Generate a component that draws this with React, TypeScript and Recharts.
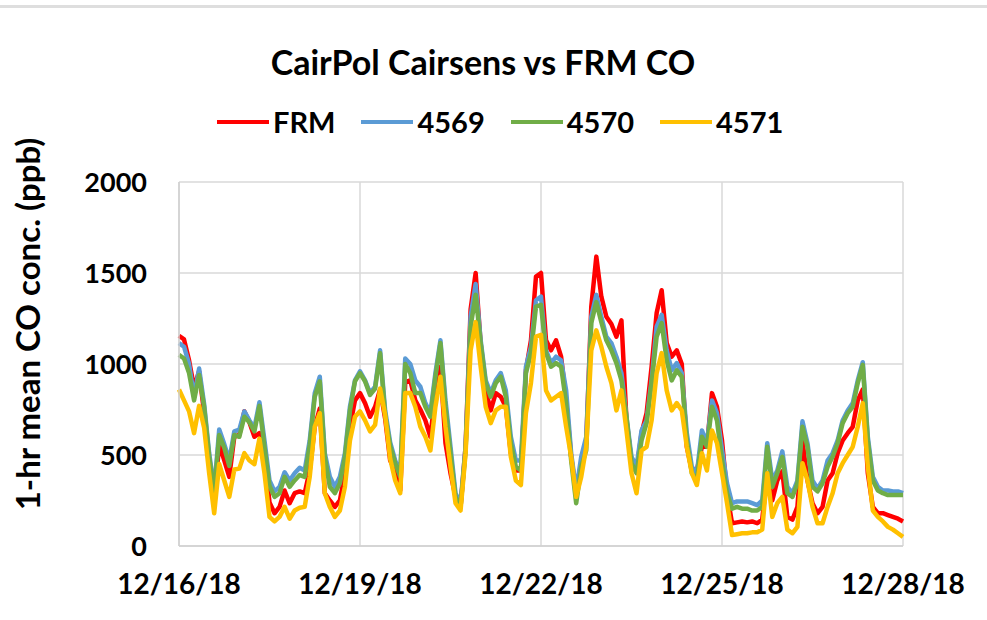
import React from "react";
import { LineChart, Line, XAxis, YAxis, CartesianGrid } from "recharts";

document.body.style.margin = "0";

// hourly CO readings sampled every 2 h, 12/16/18 00:00 -> 12/28/18 00:00
const frm = [
    1155, 1135, 1020, 870, 960, 730, 470, 250, 560, 470, 380, 600, 610, 740, 680, 600, 620, 500, 240, 180, 215, 305, 235, 290, 300,
    290, 415, 655, 755, 290, 250, 215, 250, 400, 655, 800, 840, 785, 710, 765, 860, 700, 470, 415, 305, 900, 910, 800, 750,
    690, 600, 840, 985, 565, 400, 270, 215, 545, 1300, 1500, 1110, 855, 745, 840, 820, 765, 510, 415, 415, 965, 1130, 1480, 1500,
    1130, 1075, 1130, 1040, 800, 490, 290, 435, 565, 1315, 1590, 1370, 1260, 1220, 1150, 1240, 690, 470, 415, 620, 730, 985, 1280, 1405,
    1115, 1040, 1075, 1000, 545, 415, 415, 545, 545, 840, 765, 580, 290, 125, 130, 135, 130, 135, 125, 145, 400, 250, 360, 410,
    160, 145, 215, 580, 360, 235, 180, 215, 360, 400, 510, 580, 620, 655, 800, 860, 400, 215, 180, 180, 170, 160, 150, 135,
];
const s4569 = [
    1115, 1095, 1000, 820, 975, 780, 510, 310, 640, 560, 470, 630, 640, 740, 690, 650, 790, 580, 360, 300, 325, 405, 360, 400, 430,
    415, 580, 840, 930, 510, 380, 325, 380, 510, 765, 910, 960, 910, 840, 875, 1075, 745, 570, 470, 400, 1030, 1000, 910, 875,
    785, 730, 950, 1130, 800, 545, 290, 235, 545, 1260, 1440, 1130, 910, 840, 910, 950, 855, 600, 470, 470, 985, 1095, 1350, 1370,
    1075, 1005, 1040, 1020, 855, 510, 305, 490, 600, 1260, 1380, 1260, 1150, 1115, 1040, 950, 710, 490, 435, 635, 690, 910, 1205, 1270,
    1075, 965, 1005, 950, 620, 435, 400, 635, 565, 800, 730, 530, 345, 235, 245, 245, 245, 235, 225, 250, 565, 360, 415, 520,
    325, 290, 360, 685, 565, 360, 315, 360, 470, 510, 580, 690, 745, 785, 910, 1010, 600, 380, 325, 305, 305, 300, 300, 290,
];
const s4570 = [
    1050, 1030, 950, 800, 940, 765, 490, 290, 610, 540, 440, 610, 600, 710, 680, 630, 770, 545, 330, 270, 290, 380, 325, 360, 390,
    380, 555, 820, 905, 490, 325, 290, 345, 490, 745, 905, 950, 905, 830, 865, 1060, 720, 550, 455, 380, 1000, 950, 840, 840,
    765, 710, 930, 1115, 765, 510, 270, 215, 525, 1205, 1380, 1115, 895, 820, 895, 930, 820, 565, 435, 415, 950, 1060, 1315, 1325,
    1060, 985, 1005, 985, 785, 470, 235, 435, 525, 1225, 1340, 1230, 1130, 1075, 1005, 910, 710, 455, 400, 580, 675, 895, 1150, 1225,
    1020, 910, 965, 930, 580, 400, 360, 600, 545, 765, 690, 470, 290, 205, 215, 205, 205, 195, 195, 215, 545, 325, 400, 490,
    290, 270, 345, 655, 545, 325, 300, 345, 435, 490, 565, 675, 730, 765, 895, 995, 580, 360, 305, 290, 280, 280, 280, 280,
];
const s4571 = [
    860, 800, 740, 620, 770, 650, 400, 180, 450, 360, 270, 420, 425, 510, 470, 450, 590, 400, 160, 135, 160, 215, 150, 195, 210,
    215, 380, 655, 730, 290, 215, 160, 195, 325, 580, 710, 740, 690, 630, 665, 865, 720, 480, 360, 290, 840, 840, 765, 655,
    600, 525, 765, 930, 655, 435, 235, 195, 510, 1075, 1230, 985, 765, 675, 745, 765, 765, 490, 360, 335, 730, 895, 1150, 1160,
    855, 800, 820, 840, 655, 490, 270, 380, 545, 1075, 1185, 1095, 985, 895, 745, 855, 635, 400, 290, 525, 545, 690, 950, 1060,
    855, 745, 785, 745, 545, 400, 335, 510, 415, 635, 565, 400, 235, 60, 65, 70, 70, 75, 75, 90, 400, 160, 235, 270,
    90, 70, 105, 455, 360, 215, 125, 125, 215, 290, 400, 455, 500, 545, 655, 785, 435, 195, 160, 135, 105, 90, 70, 50,
];

const dateTicks = [0, 72, 144, 216, 288];
const dateLabels = ["12/16/18", "12/19/18", "12/22/18", "12/25/18", "12/28/18"];
const yTicks = [0, 500, 1000, 1500, 2000];

const series = [
    { key: "FRM", color: "#ff0000" },
    { key: "4569", color: "#5b9bd5" },
    { key: "4570", color: "#70ad47" },
    { key: "4571", color: "#ffc000" },
];

const data = frm.map((v, i) => ({
    h: i * 2,
    FRM: v,
    "4569": s4569[i],
    "4570": s4570[i],
    "4571": s4571[i],
}));

const FONT = "Lato, 'Open Sans', sans-serif";

const XTick = (props: any) => {
    const { x, y, payload } = props;
    const idx = dateTicks.indexOf(payload.value);
    return (
        <text x={x} y={y + 48} textAnchor="middle" fontFamily={FONT} fontWeight={700} fontSize={28} fill="#000">
            {dateLabels[idx]}
        </text>
    );
};

const YTick = (props: any) => {
    const { x, y, payload } = props;
    return (
        <text x={x - 32} y={y} dy="0.36em" textAnchor="end" fontFamily={FONT} fontWeight={700} fontSize={27} fill="#000">
            {payload.value}
        </text>
    );
};

const App = () => {
    return (
        <div style={{ position: "relative", width: 987, height: 620, background: "#fff", fontFamily: FONT }}>
            <div style={{ position: "absolute", left: 0, top: 5, width: 987, height: 3, background: "#dedede" }} />
            <div
                style={{
                    position: "absolute", left: 0, width: 966, top: 40, textAlign: "center",
                    fontSize: 34, fontWeight: 700, color: "#000", lineHeight: "44px",
                }}
            >
                CairPol Cairsens vs FRM CO
            </div>
            <div
                style={{
                    position: "absolute", left: 217, top: 104, display: "flex", alignItems: "center",
                    fontSize: 29, fontWeight: 700, lineHeight: "36px",
                }}
            >
                {series.map((s) => (
                    <div key={s.key} style={{ display: "flex", alignItems: "center", marginRight: 26 }}>
                        <div style={{ width: 52, height: 4, background: s.color, marginRight: 4 }} />
                        <span>{s.key}</span>
                    </div>
                ))}
            </div>
            <div
                style={{
                    position: "absolute", left: 27, top: 324, width: 460, marginLeft: -230, marginTop: -20,
                    textAlign: "center", transform: "rotate(-90deg)", fontSize: 33, fontWeight: 700,
                    lineHeight: "40px", whiteSpace: "nowrap",
                }}
            >
                1-hr mean CO conc. (ppb)
            </div>
            <div style={{ position: "absolute", left: 0, top: 0 }}>
                <LineChart width={987} height={620} data={data} margin={{ top: 182, right: 84, bottom: 0, left: 0 }}>
                    <CartesianGrid stroke="#d9d9d9" strokeWidth={1.5} />
                    <XAxis
                        dataKey="h"
                        type="number"
                        domain={[0, 288]}
                        ticks={dateTicks}
                        height={74}
                        tickLine={false}
                        tickSize={0}
                        tickMargin={0}
                        axisLine={{ stroke: "#d0d0d0", strokeWidth: 1.5 }}
                        tick={<XTick />}
                        interval={0}
                    />
                    <YAxis
                        domain={[0, 2000]}
                        ticks={yTicks}
                        width={179}
                        tickLine={false}
                        tickSize={0}
                        tickMargin={0}
                        axisLine={{ stroke: "#d0d0d0", strokeWidth: 1.5 }}
                        tick={<YTick />}
                        interval={0}
                    />
                    {series.map((s) => (
                        <Line
                            key={s.key}
                            dataKey={s.key}
                            type="linear"
                            stroke={s.color}
                            strokeWidth={4.5}
                            dot={false}
                            strokeLinejoin="round"
                            isAnimationActive={false}
                        />
                    ))}
                </LineChart>
            </div>
        </div>
    );
};

export default App;
